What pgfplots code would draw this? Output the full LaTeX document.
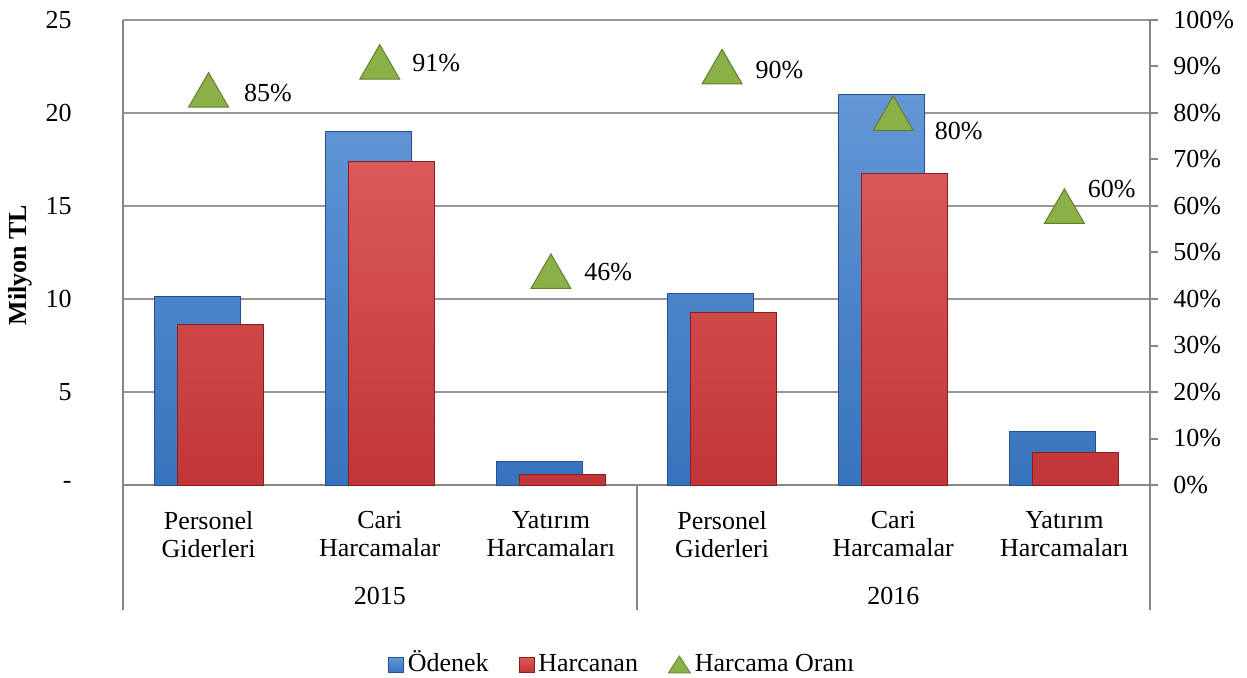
\documentclass[border=0pt]{standalone}
\usepackage{fontspec}
\setmainfont{Liberation Serif}
\usepackage{pgfplots}
\usepackage{pgfplotstable}
\pgfplotsset{compat=1.18}

\definecolor{axgray}{RGB}{134,134,134}
\definecolor{gridgray}{RGB}{150,150,150}
\definecolor{odBody}{RGB}{60,125,205}
\definecolor{odDark}{RGB}{36,80,146}
\definecolor{hcBody}{RGB}{214,60,60}
\definecolor{hcDark}{RGB}{138,30,30}
\definecolor{orGreen}{RGB}{140,176,72}
\definecolor{orDark}{RGB}{98,128,44}

% milyon TL
\pgfplotstableread{
x odenek harcanan
0 10.16 8.65
1 19.03 17.37
2 1.29 0.59
3 10.32 9.25
4 20.97 16.77
5 2.90 1.77
}\butce

% harcama orani (%), label offsets in bp
\pgfplotstableread{
x oran dx dy
0 85 17.5 1.5
1 91 16 2.5
2 46 16.5 2.5
3 90 16.5 1
4 80 20.5 -6
5 60 11.5 11.5
}\oran

\pgfplotsset{
  base/.style={
    scale only axis, width=513.5bp, height=232.5bp,
    at={(0,0)}, anchor=south west,
    xmin=-0.5, xmax=5.5, clip=false,
    /pgf/number format/assume math mode=true,
  },
}

\begin{document}
\begin{tikzpicture}[font=\fontsize{13bp}{14bp}\selectfont]
  \begin{axis}[base,
      ymin=0, ymax=25,
      axis x line*=bottom, axis y line*=left,
      axis line style={axgray, line width=1bp, -},
      ytick={0,5,...,25},
      yticklabels={-\hspace{6bp},5,10,15,20,25},
      ytick style={draw=none},
      yticklabel style={anchor=east, inner sep=0pt, xshift=-25.5bp},
      ymajorgrids, grid style={gridgray, line width=1bp},
      xtick={0,...,5}, xtick style={draw=none},
      xticklabels={Personel\\Giderleri, Cari\\Harcamalar, Yatırım\\Harcamaları,
        Personel\\Giderleri, Cari\\Harcamalar, Yatırım\\Harcamaları},
      xticklabel style={align=center, anchor=north, inner sep=0pt, yshift=-13bp},
      ylabel={\textbf{Milyon TL}},
      ylabel style={at={(axis description cs:-0.1003,0.473)}, anchor=center},
    ]
    \addplot[ybar, bar width=43bp, bar shift=-5.75bp, draw=odDark, line width=0.5bp,
      top color=odBody!80!white, bottom color=odBody!92!black]
      table[x=x, y=odenek] {\butce};
    \addplot[ybar, bar width=43bp, bar shift=5.75bp, draw=hcDark, line width=0.5bp,
      top color=hcBody!85!white, bottom color=hcBody!90!black]
      table[x=x, y=harcanan] {\butce};

    % group separators and year labels
    \draw[axgray, line width=1bp] (axis cs:-0.5,0) -- ++(0bp,-62.5bp);
    \draw[axgray, line width=1bp] (axis cs:2.5,0) -- ++(0bp,-62.5bp);
    \draw[axgray, line width=1bp] (axis cs:5.5,0) -- ++(0bp,-62.5bp);
    \node[anchor=base, yshift=-59.5bp] at (axis cs:1,0) {2015};
    \node[anchor=base, yshift=-59.5bp] at (axis cs:4,0) {2016};
  \end{axis}

  \begin{axis}[base,
      ymin=0, ymax=100,
      axis x line=none, axis y line*=right,
      axis line style={axgray, line width=1bp, -},
      ytick={0,10,...,100},
      yticklabel={\pgfmathprintnumber{\tick}\%},
      ytick style={axgray, line width=1bp},
      tick align=outside, major tick length=4bp,
      yticklabel style={anchor=west, inner sep=0pt, xshift=7.5bp},
      legend style={at={(0.487,-0.387)}, anchor=center, draw=none, fill=none,
        legend columns=3, font=\fontsize{13bp}{14bp}\selectfont,
        nodes={text height=9.5bp, text depth=3bp},
        /tikz/every even column/.append style={column sep=13bp}},
    ]
    \addlegendimage{legend image code/.code={
        \path[top color=odBody!80!white, bottom color=odBody!92!black, draw=odDark, line width=0.4bp]
          (0bp,-3.75bp) rectangle (7.5bp,3.75bp);}}
    \addlegendentry{Ödenek}
    \addlegendimage{legend image code/.code={
        \path[top color=hcBody!85!white, bottom color=hcBody!90!black, draw=hcDark, line width=0.4bp]
          (0bp,-3.75bp) rectangle (7.5bp,3.75bp);}}
    \addlegendentry{Harcanan}

    \addplot[only marks, mark=triangle*, mark size=11.5bp,
      mark options={fill=orGreen, draw=orDark, line width=0.5bp, yshift=-2.9bp},
      visualization depends on={\thisrow{dx} \as \ldx},
      visualization depends on={\thisrow{dy} \as \ldy},
      nodes near coords={\pgfmathprintnumber{\pgfplotspointmeta}\%},
      nodes near coords style={anchor=west, inner sep=0pt,
        xshift=\ldx bp, yshift=\ldy bp},
      legend image code/.code={
        \path[fill=orGreen, draw=orDark, line width=0.4bp]
          (0bp,-4bp) -- (11bp,-4bp) -- (5.5bp,4.5bp) -- cycle;},
    ] table[x=x, y=oran] {\oran};
    \addlegendentry{Harcama Oranı}
  \end{axis}

  \pgfresetboundingbox
  \path (-61.5bp,-96.5bp) rectangle (562bp,242.5bp);
\end{tikzpicture}
\end{document}
